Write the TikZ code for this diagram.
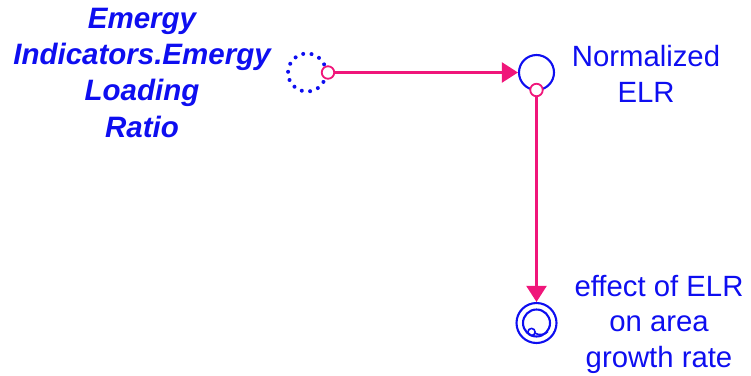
\documentclass[tikz,border=0pt]{standalone}
\usepackage{fontspec}
\setmainfont{Liberation Sans}
\usetikzlibrary{arrows.meta}
\definecolor{flowblue}{RGB}{14,14,240}
\definecolor{linkpink}{RGB}{240,22,122}
\begin{document}
\begin{tikzpicture}[x=1pt,y=-1pt,
  label/.style={text=flowblue,align=center,inner sep=0pt,anchor=base,
    font=\fontsize{29.3}{35.5}\selectfont},
  ghost/.style={circle,draw=flowblue,line width=4pt,minimum size=38pt,inner sep=0pt,
    dash pattern=on 0.01pt off 8.4pt,line cap=round},
  aux/.style={circle,draw=flowblue,line width=2.1pt,minimum size=35pt,inner sep=0pt},
  lookup/.style={circle,draw=flowblue,line width=2.1pt,minimum size=40pt,inner sep=0pt},
  joint/.style={circle,draw=linkpink,fill=white,line width=1.8pt,minimum size=12.5pt,inner sep=0pt},
  link/.style={draw=linkpink,line width=2.1pt,-{Triangle[length=16pt,width=20pt]}}
]
\useasboundingbox (0,0) rectangle (751,375);

% labels (anchored at the baseline of their last line)
\node[label,font=\fontsize{29.5}{36.3}\bfseries\itshape\selectfont] (elrlab) at (142,137)
  {Emergy\\Indicators.Emergy\\Loading\\Ratio};
\node[label] (normlab) at (646,102) {Normalized\\ELR};
\node[label] (efflab) at (659,367) {effect of ELR\\on area\\growth rate};

% converters
\node[ghost] (elr) at (307,72.5) {};
\node[aux] (norm) at (536.5,72.5) {};
\node[lookup] (eff) at (536.5,323) {};
\node[circle,draw=flowblue,line width=2.1pt,minimum size=27pt,inner sep=0pt] (effin) at (eff) {};
% lookup mark inside the inner ring
\begin{scope}[shift={(eff.center)}]
  \draw[flowblue,line width=1.6pt] (-5,9) circle[radius=3.6pt];
  \draw[flowblue,line width=1.6pt] (-1.6,10.2) .. controls (3,12.5) and (8,12) .. (11.5,8.5);
\end{scope}

% connector joints
\node[joint] (j1) at (328,72.5) {};
\node[joint] (j2) at (536.5,90) {};

% connectors
\draw[link] (j1.east) -- (norm.west);
\draw[link] (j2.south) -- (eff.north);
\end{tikzpicture}
\end{document}
